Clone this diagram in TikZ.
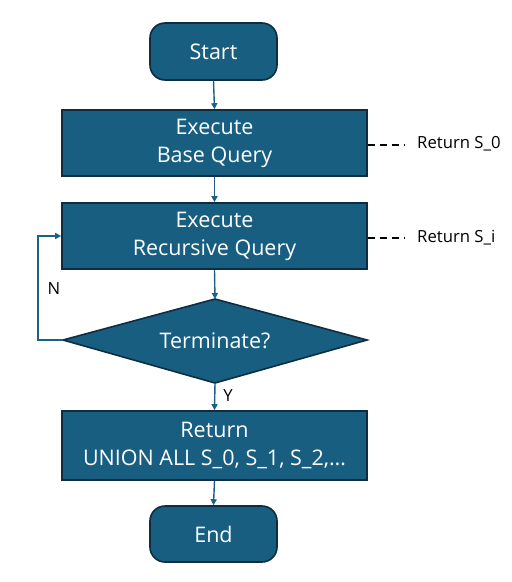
\documentclass[tikz,border=0pt]{standalone}
\usepackage{fontspec}
\setmainfont{Open Sans}
\usetikzlibrary{shapes.geometric,arrows.meta}
\definecolor{boxfill}{HTML}{175E80}
\definecolor{boxedge}{HTML}{0E2D40}
\definecolor{linec}{HTML}{1B6185}
\begin{document}
\begin{tikzpicture}[x=1pt,y=-1pt,
  box/.style={draw=boxedge,line width=1.6pt,fill=boxfill,text=white,font=\fontsize{21.5}{28}\selectfont,align=center,inner sep=0pt},
  term/.style={box,rounded corners=15pt,minimum width=127pt,minimum height=57pt},
  proc/.style={box,minimum width=305pt,minimum height=66pt},
  conn/.style={draw=linec,line width=1.4pt,-{Triangle[length=6pt,width=6pt]}},
  dashln/.style={draw=black,line width=1.4pt,dash pattern=on 7pt off 5pt},
  lbl/.style={font=\fontsize{16.7}{18}\selectfont,text=black,inner sep=0pt}]
\useasboundingbox (0,0) rectangle (512,582);
\node[term] (start) at (213.5,51.5) {Start};
\node[proc] (base) at (214.5,143) {Execute\\Base Query};
\node[proc] (rec) at (214.5,236) {Execute\\Recursive Query};
\coordinate (dl) at (63,340);
\coordinate (dt) at (215,299);
\coordinate (db) at (215,383);
\coordinate (dr) at (367,340);
\path[draw=boxedge,line width=1.6pt,fill=boxfill] (dl) -- (dt) -- (dr) -- (db) -- cycle;
\node[text=white,font=\fontsize{21.5}{28}\selectfont,inner sep=0pt] (term) at (215,341) {Terminate?};
\node[proc,minimum height=69pt] (ret) at (214.5,445.5) {Return\\UNION ALL S\_0, S\_1, S\_2,\dots};
\node[term,minimum height=56pt] (end) at (213.5,534) {End};
\draw[conn] (start.south) -- (base.north);
\draw[conn] (base.south) -- (rec.north);
\draw[conn] (rec.south) -- (dt);
\draw[conn] (db) -- (ret.north);
\draw[conn] (ret.south) -- (end.north);
\draw[conn] (dl) -- (38,340) -- (38,236) -- (rec.west);
\coordinate (d1) at (404,145);
\coordinate (d2) at (404,238);
\draw[dashln] (base.east |- d1) -- (d1);
\draw[dashln] (rec.east |- d2) -- (d2);
\node[lbl,anchor=west] (r0) at (417,144) {Return S\_0};
\node[lbl,anchor=west] (ri) at (417,238) {Return S\_i};
\node[lbl] (n) at (54,289) {N};
\node[lbl] (y) at (228,396) {Y};
\end{tikzpicture}
\end{document}
